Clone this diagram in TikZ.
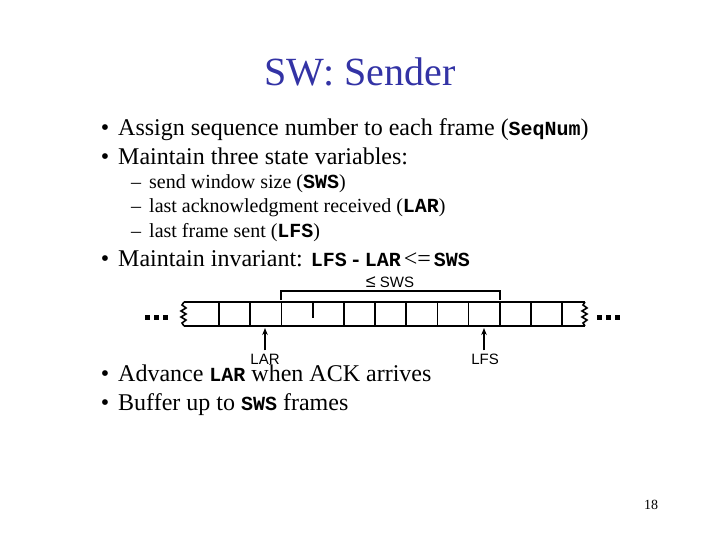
\documentclass[tikz,border=0pt]{standalone}
\usepackage{fontspec}
\setmainfont{Liberation Serif}
\newfontfamily\codefont{Liberation Mono}
\newfontfamily\figfont{Liberation Sans}
\usetikzlibrary{arrows.meta}
\definecolor{titleblue}{RGB}{51,51,165}
\newcommand{\code}[1]{{\codefont\bfseries\fontsize{20}{24}\selectfont #1}}

\begin{document}
\begin{tikzpicture}[x=1pt,y=-1pt,
  item/.style={anchor=base west,inner sep=0pt,font=\fontsize{24}{28}\selectfont},
  subitem/.style={anchor=base west,inner sep=0pt,font=\fontsize{20}{24}\selectfont},
  bulletmark/.style={anchor=base,inner sep=0pt},
  frame/.style={line width=1.6pt},
  tag/.style={anchor=base,inner sep=0pt,font=\figfont\fontsize{15}{18}\selectfont},
  ptr/.style={line width=1.5pt,-{Stealth[length=7pt,width=5.5pt]}}]
\useasboundingbox (0,0) rectangle (720,540);
% title
\node[anchor=base,inner sep=0pt,text=titleblue,font=\fontsize{40}{44}\selectfont] (title) at (360,86) {SW: Sender};
% bullets
\node[bulletmark,font=\fontsize{24}{28}\selectfont] (b1) at (105,136) {•};
\node[item] (t1) at (118,136) {Assign sequence number to each frame (\code{SeqNum})};
\node[bulletmark,font=\fontsize{24}{28}\selectfont] (b2) at (105,165) {•};
\node[item] (t2) at (118,165) {Maintain three state variables:};
\node[bulletmark,font=\fontsize{20}{24}\selectfont] (d1) at (136,189) {–};
\node[subitem] (s1) at (149,189) {send window size (\code{SWS})};
\node[bulletmark,font=\fontsize{20}{24}\selectfont] (d2) at (136,213) {–};
\node[subitem] (s2) at (149,213) {last acknowledgment received (\code{LAR})};
\node[bulletmark,font=\fontsize{20}{24}\selectfont] (d3) at (136,237) {–};
\node[subitem] (s3) at (149,237) {last frame sent (\code{LFS})};
\node[bulletmark,font=\fontsize{24}{28}\selectfont] (b3) at (105,266) {•};
\node[item] (t3) at (118,266) {Maintain invariant: \code{LFS}\hspace{3pt}\code{-}\hspace{3pt}\code{LAR}\kern3pt<=\kern3pt\code{SWS}};
\node[bulletmark,font=\fontsize{24}{28}\selectfont] (b4) at (105,381) {•};
\node[item] (t4) at (118,381) {Advance \code{LAR} when ACK arrives};
\node[bulletmark,font=\fontsize{24}{28}\selectfont] (b5) at (105,410) {•};
\node[item] (t5) at (118,410) {Buffer up to \code{SWS} frames};
% window of frames
\draw[frame] (184,302) -- (585,302);
\draw[frame] (184,326) -- (585,326);
\draw[frame] (184,302) -- (182,305) -- (186,308) -- (181,311) -- (186,314) -- (181,317) -- (186,320) -- (182,323) -- (184,326);
\draw[frame] (585,302) -- (583,305) -- (587,308) -- (582,311) -- (587,314) -- (582,317) -- (587,320) -- (583,323) -- (585,326);
\foreach \k in {0,1,2,4,5,6,7,8,9,10,11}
  \draw[frame] ({219+31.2*\k},302) -- ++(0,24);
\draw[line width=1.2pt] (313,303) -- (313,318);
\foreach \x in {145,154,163} {
  \fill ({\x},315) rectangle ++(5,5);
  \fill ({\x+452},315) rectangle ++(5,5);
}
% send window bracket
\draw[line width=1.5pt] (281,300) -- (281,291) -- (500,291) -- (500,300);
\node[tag] (sws) at (390,287) {{\fontsize{18}{18}\selectfont ≤} SWS};
% pointers
\node[tag] (lar) at (265,364) {LAR};
\node[tag] (lfs) at (485,364) {LFS};
\coordinate (lartip) at (265,328);
\coordinate (lfstip) at (484,328);
\draw[ptr] ([yshift=3pt]lar.north) -- (lartip);
\draw[ptr] ([yshift=3pt,xshift=-1pt]lfs.north) -- (lfstip);
% page number
\node[anchor=base,inner sep=0pt,font=\fontsize{14}{16}\selectfont] (page) at (651,509) {18};
\end{tikzpicture}
\end{document}
